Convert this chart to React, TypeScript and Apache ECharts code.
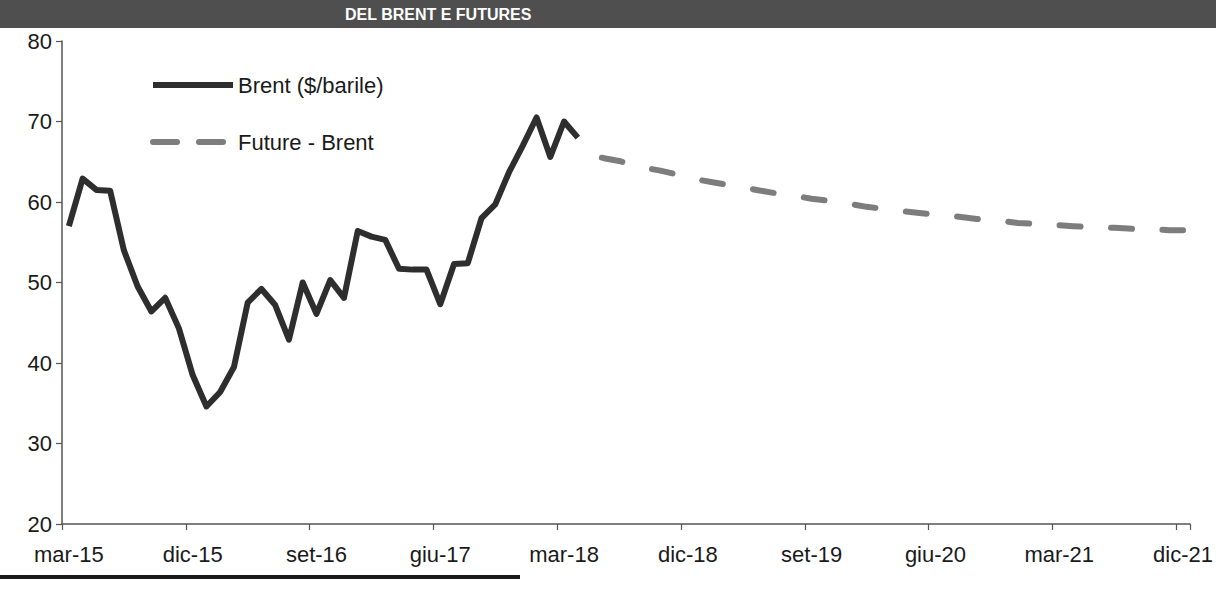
import React, { useEffect, useRef } from "react";
import * as echarts from "echarts";

// Monthly categories (Italian abbreviations), mar-15 .. dic-21
const categories = [
  "mar-15", "apr-15", "mag-15", "giu-15", "lug-15", "ago-15", "set-15", "ott-15", "nov-15", "dic-15",
  "gen-16", "feb-16", "mar-16", "apr-16", "mag-16", "giu-16", "lug-16", "ago-16", "set-16", "ott-16", "nov-16", "dic-16",
  "gen-17", "feb-17", "mar-17", "apr-17", "mag-17", "giu-17", "lug-17", "ago-17", "set-17", "ott-17", "nov-17", "dic-17",
  "gen-18", "feb-18", "mar-18", "apr-18", "mag-18", "giu-18", "lug-18", "ago-18", "set-18", "ott-18", "nov-18", "dic-18",
  "gen-19", "feb-19", "mar-19", "apr-19", "mag-19", "giu-19", "lug-19", "ago-19", "set-19", "ott-19", "nov-19", "dic-19",
  "gen-20", "feb-20", "mar-20", "apr-20", "mag-20", "giu-20", "lug-20", "ago-20", "set-20", "ott-20", "nov-20", "dic-20",
  "gen-21", "feb-21", "mar-21", "apr-21", "mag-21", "giu-21", "lug-21", "ago-21", "set-21", "ott-21", "nov-21", "dic-21",
];

// Brent ($/barile), mar-15 .. apr-18
const brentValues = [
  57.0, 62.9, 61.5, 61.4, 54.0, 49.5, 46.4, 48.1, 44.3, 38.5,
  34.6, 36.4, 39.5, 47.5, 49.2, 47.2, 42.9, 50.0, 46.1, 50.3, 48.1, 56.4,
  55.7, 55.3, 51.7, 51.6, 51.6, 47.3, 52.3, 52.4, 58.0, 59.7, 63.7, 67.0,
  70.5, 65.6, 70.0, 68.0,
];

// Future - Brent, mag-18 .. dic-21
const futureStartIndex = 38;
const futureValues = [
  65.8, 65.4, 65.1, 64.6, 64.2, 63.9, 63.5, 63.1,
  62.7, 62.4, 62.1, 61.8, 61.5, 61.2, 60.9, 60.7, 60.4, 60.2, 59.9, 59.7,
  59.4, 59.2, 59.0, 58.8, 58.6, 58.4, 58.3, 58.1, 57.9, 57.8, 57.6, 57.4,
  57.3, 57.2, 57.1, 57.0, 56.9, 56.8, 56.8, 56.7, 56.6, 56.6, 56.5, 56.5,
];

const yMin = 20;
const yMax = 80;
const yInterval = 10;
const seriesNames = ["Brent ($/barile)", "Future - Brent"];
const titleText = "DEL BRENT E FUTURES";

const FONT = "Liberation Sans";

export default function App() {
  const ref = useRef<HTMLDivElement>(null);

  useEffect(() => {
    document.body.style.margin = "0";
    const chart = echarts.init(ref.current as HTMLDivElement, null, { renderer: "svg" });

    const futureData: (number | null)[] = [];
    for (let i = 0; i < futureStartIndex; i++) futureData.push(null);
    futureValues.forEach((v) => futureData.push(v));

    chart.setOption({
      animation: false,
      backgroundColor: "#ffffff",
      grid: { left: 62, right: 25, top: 41, bottom: 65, containLabel: false },
      legend: {
        orient: "vertical",
        left: 145,
        top: 69,
        itemWidth: 80,
        itemHeight: 14,
        itemGap: 35,
        selectedMode: false,
        textStyle: { fontSize: 22, color: "#1a1a1a", fontFamily: FONT },
        data: [
          {
            name: seriesNames[0],
            itemStyle: { opacity: 0 },
            lineStyle: { width: 6, color: "#2e2e2e" },
          },
          {
            name: seriesNames[1],
            itemStyle: { opacity: 0 },
            lineStyle: { width: 6, color: "#7d7d7d", type: [24, 22], dashOffset: 0, cap: "round" },
          },
        ],
      },
      xAxis: {
        type: "category",
        data: categories,
        boundaryGap: true,
        axisLine: { show: true, lineStyle: { color: "#555", width: 1.5 } },
        axisTick: { show: true, interval: 8, length: 6, lineStyle: { color: "#555", width: 1.2 } },
        axisLabel: { interval: 8, fontSize: 22, color: "#1a1a1a", margin: 19, fontFamily: FONT },
        splitLine: { show: false },
      },
      yAxis: {
        type: "value",
        min: yMin,
        max: yMax,
        interval: yInterval,
        axisLine: { show: true, lineStyle: { color: "#555", width: 1.5 } },
        axisTick: { show: true, length: 6, lineStyle: { color: "#555", width: 1.2 } },
        axisLabel: { fontSize: 22, color: "#1a1a1a", margin: 10, fontFamily: FONT },
        splitLine: { show: false },
      },
      series: [
        {
          name: seriesNames[0],
          type: "line",
          data: brentValues,
          symbol: "none",
          z: 3,
          itemStyle: { color: "#2e2e2e" },
          lineStyle: { color: "#2e2e2e", width: 6, join: "round" },
        },
        {
          name: seriesNames[1],
          type: "line",
          data: futureData,
          symbol: "none",
          z: 2,
          itemStyle: { color: "#7d7d7d" },
          lineStyle: { color: "#7d7d7d", width: 6, type: [21, 30.5], dashOffset: 40.7, cap: "round" },
        },
      ],
      graphic: [
        {
          type: "rect",
          shape: { x: 0, y: 0, width: 1216, height: 28 },
          style: { fill: "#4f4f4f" },
          silent: true,
        },
        {
          type: "text",
          x: 345,
          y: 6,
          style: {
            text: titleText,
            fill: "#ffffff",
            fontSize: 16,
            fontWeight: "bold",
            fontFamily: FONT,
          },
          silent: true,
        },
        {
          type: "rect",
          shape: { x: 0, y: 575, width: 520, height: 4 },
          style: { fill: "#1a1a1a" },
          silent: true,
        },
      ],
    });

    return () => chart.dispose();
  }, []);

  return (
    <div
      ref={ref}
      style={{ position: "absolute", left: 0, top: 0, width: 1216, height: 589, background: "#fff" }}
    />
  );
}
